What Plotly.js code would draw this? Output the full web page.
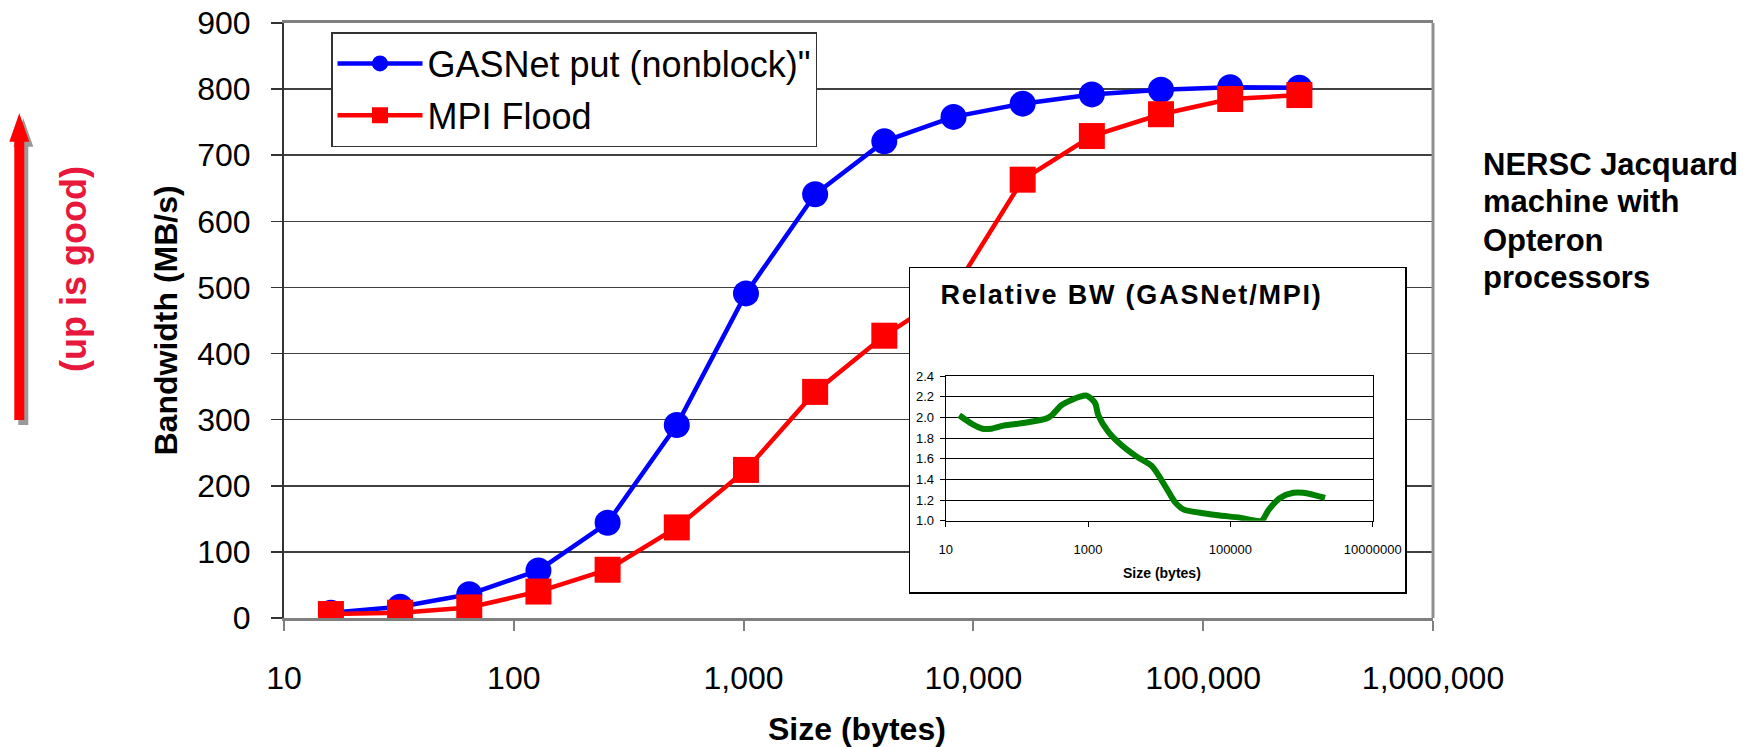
<!DOCTYPE html>
<html><head><meta charset="utf-8">
<script src="https://cdn.plot.ly/plotly-3.0.1.min.js"></script>
<style>
html,body{margin:0;padding:0;background:#fff;}
#chart{width:1760px;height:747px;}
g.annotation[data-index="0"] text{letter-spacing:1.8px;}
</style></head><body><div id="chart"></div>
<script>
// ---- main chart data ----
const sizes = [16, 32, 64, 128, 256, 512, 1024, 2048, 4096, 8192, 16384, 32768, 65536, 131072, 262144];
const gasnetPut = [8, 17, 36, 72, 144, 292, 491, 641, 721, 758, 778, 792, 799, 803, 802];
const mpiFlood = [6, 8, 16, 40, 73, 137, 224, 342, 427, 495, 663, 729, 762, 785, 791];
const seriesNames = ['GASNet put (nonblock)"', 'MPI Flood'];
const xTickVals = [10, 100, 1000, 10000, 100000, 1000000];
const xTickText = ['10', '100', '1,000', '10,000', '100,000', '1,000,000'];

// ---- inset data (relative bandwidth GASNet/MPI) ----
const relSizes = [15.5, 23, 33, 44, 65, 138, 264, 310, 427, 771, 955, 1253, 1394, 1927, 2970, 4830, 7840, 12740, 16670, 21840, 44000, 71400, 136000, 188000, 275000, 341000, 498000, 767000, 1060000, 2140000];
const relBW = [2.02, 1.94, 1.89, 1.89, 1.92, 1.95, 1.99, 2.02, 2.12, 2.20, 2.21, 2.14, 2.02, 1.86, 1.73, 1.62, 1.53, 1.31, 1.18, 1.11, 1.07, 1.05, 1.03, 1.01, 1.00, 1.10, 1.22, 1.27, 1.27, 1.22];
const insetTickVals = [10, 1000, 100000, 10000000];
const insetTickText = ['10', '1000', '100000', '10000000'];

const FONT = 'Liberation Sans, Arial, sans-serif';
const L = 284, R = 1433, T = 23, B = 618;
const px = x => (x - L) / (R - L);
const py = y => (B - y) / (B - T);

const traces = [
  {x: sizes, y: gasnetPut, name: seriesNames[0], type: 'scatter', mode: 'lines+markers',
   line: {color: '#0000ff', width: 4.5}, marker: {symbol: 'circle', size: 26, color: '#0000ff'},
   legendgroup: 'a'},
  {x: sizes, y: mpiFlood, name: seriesNames[1], type: 'scatter', mode: 'lines+markers',
   line: {color: '#ff0000', width: 4.5}, marker: {symbol: 'square', size: 26, color: '#ff0000'},
   legendgroup: 'b'},
  {x: [], y: [], xaxis: 'x2', yaxis: 'y2', type: 'scatter', showlegend: false, hoverinfo: 'skip'},
  {x: relSizes, y: relBW, xaxis: 'x3', yaxis: 'y3', type: 'scatter', mode: 'lines',
   line: {color: '#008000', width: 6, shape: 'spline', smoothing: 0.8}, showlegend: false}
];

function arrowPath(dx, dy) {
  const pts = [[14.3, 420], [14.3, 141.7], [9.3, 141.7], [19.3, 113.3], [29.3, 141.7], [24.3, 141.7], [24.3, 420]];
  return 'M' + pts.map(p => px(p[0] + dx) + ',' + py(p[1] + dy)).join('L') + 'Z';
}

const ann = (text, x, y, size, extra) => Object.assign({
  text: text, x: px(x), y: py(y), xref: 'paper', yref: 'paper', showarrow: false,
  xanchor: 'center', yanchor: 'middle', font: {family: FONT, size: size, color: '#000', weight: 'bold'}
}, extra || {});

const layout = {
  width: 1760, height: 747,
  margin: {l: L, r: 1760 - R, t: T, b: 747 - B, pad: 0},
  paper_bgcolor: '#fff', plot_bgcolor: '#fff',
  font: {family: FONT, color: '#000'},
  showlegend: true,
  legend: {x: px(331), y: py(32), xanchor: 'left', yanchor: 'top', bgcolor: '#fff',
    bordercolor: '#333', borderwidth: 1.5, font: {family: FONT, size: 36, color: '#000'},
    itemwidth: 85, traceorder: 'grouped', tracegroupgap: 2},
  xaxis: {type: 'log', range: [1, 6], tickvals: xTickVals, ticktext: xTickText,
    tickfont: {family: FONT, size: 32}, ticks: 'outside', ticklen: 10, tickwidth: 2, tickcolor: '#808080',
    showline: true, mirror: true, linecolor: '#808080', linewidth: 3, showgrid: false, zeroline: false,
    ticklabelstandoff: 20},
  yaxis: {range: [0, 900], dtick: 100, tick0: 0, tickfont: {family: FONT, size: 32},
    ticks: 'outside', ticklen: 11, tickwidth: 1.5, tickcolor: '#333',
    showline: true, linecolor: '#333', linewidth: 2, showgrid: true, gridcolor: '#404040', gridwidth: 1.5,
    zeroline: false, ticklabelstandoff: 14},
  xaxis2: {domain: [px(910), px(1405)], anchor: 'y2', range: [0, 1], showline: true, mirror: true,
    linecolor: '#000', linewidth: 1.5, showgrid: false, zeroline: false, showticklabels: false, ticks: ''},
  yaxis2: {domain: [py(592), py(268)], anchor: 'x2', range: [0, 1], showline: true, mirror: true,
    linecolor: '#000', linewidth: 1.5, showgrid: false, zeroline: false, showticklabels: false, ticks: ''},
  xaxis3: {domain: [px(945.7), px(1372.7)], anchor: 'y3', type: 'log', range: [1, 7],
    tickvals: insetTickVals, ticktext: insetTickText, tickfont: {family: FONT, size: 13},
    ticks: 'outside', ticklen: 5, tickcolor: '#000', showline: true, mirror: true, linecolor: '#000',
    linewidth: 1, showgrid: false, zeroline: false, ticklabelstandoff: 12},
  yaxis3: {domain: [py(520.7), py(376)], anchor: 'x3', range: [1.0, 2.4], dtick: 0.2, tick0: 1.0,
    tickformat: '.1f', tickfont: {family: FONT, size: 13}, ticks: 'outside', ticklen: 5, tickcolor: '#000',
    showline: true, mirror: true, linecolor: '#000', linewidth: 1, showgrid: true, gridcolor: '#000',
    gridwidth: 1, zeroline: false, ticklabelstandoff: 3},
  shapes: [
    {type: 'line', xref: 'paper', yref: 'paper', x0: 1, x1: 1, y0: 0, y1: 1, line: {color: '#909090', width: 3}},
    {type: 'path', xref: 'paper', yref: 'paper', path: arrowPath(4, 5), fillcolor: '#9a9a9a', line: {width: 0}},
    {type: 'path', xref: 'paper', yref: 'paper', path: arrowPath(0, 0), fillcolor: '#ff0000', line: {width: 0}}
  ],
  annotations: [
    ann('Relative BW (GASNet/MPI)', 1131, 295, 27),
    ann('Size (bytes)', 1162, 573, 14),
    ann('Bandwidth (MB/s)', 165, 320.5, 32, {textangle: -90}),
    ann('Size (bytes)', 857, 729, 32),
    ann('(up is good)', 73, 269, 36, {textangle: -90, font: {family: FONT, size: 36, color: '#e8173c', weight: 'bold'}}),
    ann('NERSC Jacquard', 1481, 164, 31, {xanchor: 'left'}),
    ann('machine with', 1481, 201, 31, {xanchor: 'left'}),
    ann('Opteron', 1481, 240, 31, {xanchor: 'left'}),
    ann('processors', 1481, 277, 31, {xanchor: 'left'})
  ]
};

Plotly.newPlot('chart', traces, layout, {displayModeBar: false, staticPlot: true});
</script></body></html>
